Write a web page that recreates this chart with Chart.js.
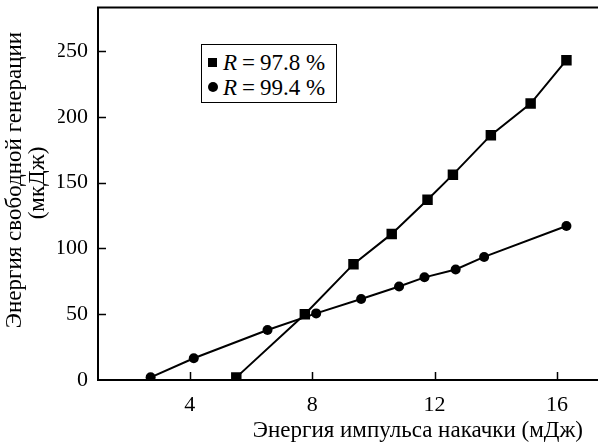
<!DOCTYPE html>
<html lang="ru">
<head>
  <meta charset="utf-8">
  <title>Энергия свободной генерации</title>
  <script src="https://cdn.jsdelivr.net/npm/chart.js@4.4.0/dist/chart.umd.min.js"></script>
  <style>
    html, body { margin: 0; padding: 0; background: #fff; }
    #wrap { position: relative; width: 598px; height: 443px; font-family: "Liberation Serif", "Times New Roman", Times, serif; color: #000; }
    #chart { position: absolute; left: 0; top: 0; }
    .legend { position: absolute; left: 201px; top: 44px; width: 134px; height: 57px; border: 1.5px solid #000; background: #fff; }
    .legend .row { position: absolute; left: 6px; font-size: 23px; line-height: 22px; white-space: nowrap; }
    .legend .sq { display: inline-block; width: 9px; height: 9px; background: #000; margin-right: 6px; vertical-align: 3px; }
    .legend .ci { display: inline-block; width: 10px; height: 10px; border-radius: 50%; background: #000; margin-right: 5px; vertical-align: 3px; }
    .legend .eq { margin: 0 5px; }
    .xtitle { position: absolute; right: 15px; top: 419px; font-size: 23px; line-height: 22px; white-space: nowrap; }
    .ytitle { position: absolute; width: 400px; height: 24px; font-size: 23px; line-height: 24px; text-align: center; white-space: nowrap; transform: rotate(-90deg); }
  </style>
</head>
<body>
<div id="wrap">
  <canvas id="chart" width="598" height="443"></canvas>
  <div class="legend">
    <div class="row" style="top:7px"><span class="sq"></span><i>R</i><span class="eq">=</span>97.8 %</div>
    <div class="row" style="top:32px"><span class="ci"></span><i>R</i><span class="eq">=</span>99.4 %</div>
  </div>
  <div class="xtitle">Энергия импульса накачки (мДж)</div>
  <div class="ytitle" style="left:-186px; top:168px">Энергия свободной генерации</div>
  <div class="ytitle" style="left:-163px; top:171px">(мкДж)</div>
</div>
<script>
// R = 97.8 %
var xSquare = [5.52, 7.76, 9.35, 10.6, 11.77, 12.6, 13.84, 15.14, 16.31];
var ySquare = [2, 50, 88, 111, 137, 156, 186, 210, 243];
// R = 99.4 %
var xCircle = [2.72, 4.13, 6.54, 8.13, 9.6, 10.84, 11.67, 12.69, 13.62, 16.31];
var yCircle = [2, 16.5, 38, 50.6, 61.5, 71, 78, 84, 93.5, 117];

var xTicks = [4, 8, 12, 16];
var yTicks = [0, 50, 100, 150, 200, 250];

var serif = '"Liberation Serif", "Times New Roman", Times, serif';

function toPoints(xs, ys) {
  var pts = [];
  for (var i = 0; i < xs.length; i++) pts.push({ x: xs[i], y: ys[i] });
  return pts;
}

function noPad(s) {
  s.paddingTop = 0; s.paddingBottom = 0; s.paddingLeft = 0; s.paddingRight = 0;
}

// inward tick marks, the top frame line and the axis running to the edge
var framePlugin = {
  id: 'frame',
  afterDraw: function(chart) {
    var ctx = chart.ctx, a = chart.chartArea;
    var xs = chart.scales.x, ys = chart.scales.y;
    ctx.save();
    ctx.strokeStyle = '#000';
    ctx.lineWidth = 2;
    ctx.beginPath();
    ctx.moveTo(a.left - 1, a.top);
    ctx.lineTo(chart.width, a.top);
    ctx.moveTo(a.left, a.bottom);
    ctx.lineTo(chart.width, a.bottom);
    ctx.stroke();
    ctx.lineWidth = 1.5;
    ctx.beginPath();
    xTicks.forEach(function(v) {
      var px = Math.round(xs.getPixelForValue(v)) + 0.5;
      ctx.moveTo(px, a.bottom);
      ctx.lineTo(px, a.bottom - 8);
    });
    yTicks.forEach(function(v) {
      if (v === 0) return;
      var py = Math.round(ys.getPixelForValue(v)) + 0.5;
      ctx.moveTo(a.left, py);
      ctx.lineTo(a.left + 8, py);
    });
    ctx.stroke();
    ctx.restore();
  }
};

var ctx = document.getElementById('chart').getContext('2d');
new Chart(ctx, {
  type: 'line',
  data: {
    datasets: [{
      label: 'R = 97.8 %',
      data: toPoints(xSquare, ySquare),
      borderColor: '#000',
      backgroundColor: '#000',
      borderWidth: 2,
      pointStyle: 'rect',
      pointRadius: 7.4,
      pointBorderWidth: 0,
      pointBackgroundColor: '#000'
    }, {
      label: 'R = 99.4 %',
      data: toPoints(xCircle, yCircle),
      borderColor: '#000',
      backgroundColor: '#000',
      borderWidth: 2,
      pointStyle: 'circle',
      pointRadius: 5,
      pointBorderWidth: 0,
      pointBackgroundColor: '#000'
    }]
  },
  options: {
    responsive: false,
    animation: false,
    events: [],
    layout: { padding: { left: 58, top: 7.5, right: 0, bottom: 26 } },
    plugins: { legend: { display: false }, tooltip: { enabled: false } },
    scales: {
      x: {
        type: 'linear',
        min: 1,
        max: 17.1,
        afterBuildTicks: function(s) { s.ticks = xTicks.map(function(v) { return { value: v }; }); },
        afterFit: function(s) { s.height = 37; noPad(s); },
        grid: { display: false, drawTicks: false },
        border: { display: true, color: '#000', width: 2 },
        ticks: { color: '#000', padding: 12, maxRotation: 0, font: { family: serif, size: 22 } }
      },
      y: {
        type: 'linear',
        min: 0,
        max: 283,
        afterBuildTicks: function(s) { s.ticks = yTicks.map(function(v) { return { value: v }; }); },
        afterFit: function(s) { s.width = 40; noPad(s); },
        grid: { display: false, drawTicks: false },
        border: { display: true, color: '#000', width: 2 },
        ticks: { color: '#000', padding: 10, font: { family: serif, size: 22 } }
      }
    }
  },
  plugins: [framePlugin]
});
</script>
</body>
</html>
